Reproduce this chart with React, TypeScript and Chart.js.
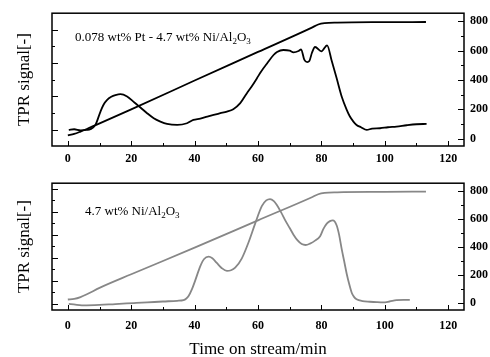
import React, { useEffect, useRef } from 'react';
import { Chart, registerables } from 'chart.js';

Chart.register(...registerables);

const FONT = "'Liberation Serif', 'Times New Roman', Times, serif";

// x axis (time, min): tick positions and labelled ticks
const timeTicks = [0, 10, 20, 30, 40, 50, 60, 70, 80, 90, 100, 110, 120];
const timeLabels = [0, 20, 40, 60, 80, 100, 120];
// right axis (temperature)
const tempTicks = [0, 100, 200, 300, 400, 500, 600, 700, 800];
const tempLabels = [0, 200, 400, 600, 800];
// left axis (TPR signal, unlabelled ticks)
const topSignalTicks = [0, 0.5, 1, 1.5, 2, 2.5, 3];
const bottomSignalTicks = [0, 0.5, 1, 1.5, 2, 2.5, 3, 3.5, 4, 4.5, 5];

// ---- top panel: 0.078 wt% Pt - 4.7 wt% Ni/Al2O3 ----
const topSignalTime = [0.3, 2, 4, 6, 7.1, 8.7, 10.3, 11.3, 12.4, 13.7, 15, 16.6, 18.7, 21, 22.9, 25, 27.1, 29.2, 31.3, 34.5, 37.6, 39.6, 41.8, 44, 46, 48.1, 50.2, 52.2, 54.4, 56.5, 58, 59.7, 61, 62.8, 64.9, 66, 68, 70, 71.2, 72.8, 73.6, 74.6, 75.5, 76.2, 77, 78, 80, 81.8, 83.3, 84.8, 86.4, 88, 89, 90.1, 91.1, 92.5, 94.3, 96, 98.5, 101, 103.7, 106.9, 110, 113.2];
const topSignal = [0.0, 0.02, -0.01, 0.0, 0.02, 0.15, 0.55, 0.76, 0.9, 0.99, 1.04, 1.07, 1.0, 0.82, 0.67, 0.5, 0.35, 0.25, 0.18, 0.15, 0.2, 0.3, 0.34, 0.4, 0.45, 0.5, 0.55, 0.62, 0.8, 1.1, 1.3, 1.55, 1.75, 1.98, 2.24, 2.33, 2.39, 2.37, 2.32, 2.36, 2.41, 2.1, 2.03, 2.06, 2.3, 2.48, 2.35, 2.53, 2.05, 1.55, 1.0, 0.6, 0.4, 0.25, 0.15, 0.08, 0.0, 0.04, 0.05, 0.08, 0.1, 0.14, 0.17, 0.18];
const topTempTime = [0, 2, 4, 6, 8, 20, 40, 60, 77, 79, 81, 85, 100, 113];
const topTemp = [22, 32, 48, 66, 85, 200, 396, 591, 757, 778, 787, 791, 794, 795];

// ---- bottom panel: 4.7 wt% Ni/Al2O3 ----
const bottomSignalTime = [0.3, 5, 10, 15, 20.8, 25, 30, 34.5, 36.5, 37.3, 38.1, 39.2, 40.2, 41.8, 43, 44.4, 45.6, 47, 48.6, 50.2, 51.5, 52.8, 54.9, 57, 59.1, 61.2, 62.6, 63.8, 65, 65.9, 67.3, 68.6, 70, 71.2, 72.5, 73.8, 75, 76.4, 78, 79.6, 80.6, 81.7, 82.7, 83.6, 84.8, 85.6, 86.4, 87.2, 88, 88.8, 89.6, 90.3, 91.1, 93, 95.3, 97.5, 99.5, 101.5, 103.7, 106, 107.9];
const bottomSignal = [0.0, -0.07, -0.05, -0.01, 0.03, 0.06, 0.1, 0.13, 0.16, 0.22, 0.34, 0.65, 1.02, 1.64, 1.95, 2.05, 1.98, 1.78, 1.55, 1.43, 1.46, 1.57, 1.98, 2.67, 3.49, 4.25, 4.5, 4.56, 4.47, 4.31, 3.98, 3.63, 3.3, 3.01, 2.76, 2.6, 2.56, 2.62, 2.75, 2.94, 3.25, 3.49, 3.6, 3.63, 3.42, 3.0, 2.39, 1.85, 1.3, 0.85, 0.47, 0.3, 0.2, 0.12, 0.09, 0.07, 0.06, 0.1, 0.16, 0.17, 0.17];
const bottomTempTime = [0, 2, 4, 6, 10, 20, 40, 60, 77, 79, 81, 85, 100, 113];
const bottomTemp = [25, 29, 42, 62, 108, 205, 395, 590, 755, 776, 786, 790, 793, 795];

const topNote = [
  { text: '0.078 wt% Pt - 4.7 wt% Ni/Al' },
  { text: '2', sub: true },
  { text: 'O' },
  { text: '3', sub: true },
];
const bottomNote = [
  { text: '4.7 wt% Ni/Al' },
  { text: '2', sub: true },
  { text: 'O' },
  { text: '3', sub: true },
];

const pts = (xs: number[], ys: number[]) => xs.map((x, i) => ({ x, y: ys[i] }));

const isMult = (v: number, m: number) => Math.abs(v / m - Math.round(v / m)) < 1e-6;

const setTicks = (values: number[]) => (s: any) => {
  s.ticks = values.map((value) => ({ value }));
};

const framePlugin = {
  id: 'frameTicks',
  afterDraw(chart: any) {
    const { ctx, chartArea, scales } = chart;
    const { left, right, top, bottom } = chartArea;
    ctx.save();
    ctx.strokeStyle = '#000';
    ctx.lineWidth = 1;
    ctx.beginPath();
    const xs = scales.x;
    xs.ticks.forEach((t: any) => {
      const major = timeLabels.includes(t.value);
      const px = Math.round(xs.getPixelForValue(t.value)) + 0.5;
      ctx.moveTo(px, bottom);
      ctx.lineTo(px, bottom - (major ? 5 : 3));
    });
    const yl = scales.yL;
    yl.ticks.forEach((t: any) => {
      const major = isMult(t.value, 1);
      const py = Math.round(yl.getPixelForValue(t.value)) + 0.5;
      if (py <= top + 1 || py >= bottom - 1) return;
      ctx.moveTo(left, py);
      ctx.lineTo(left + (major ? 6 : 3), py);
    });
    const yr = scales.yR;
    yr.ticks.forEach((t: any) => {
      const major = tempLabels.includes(t.value);
      const py = Math.round(yr.getPixelForValue(t.value)) + 0.5;
      if (py <= top + 1 || py >= bottom - 1) return;
      ctx.moveTo(right, py);
      ctx.lineTo(right - (major ? 6 : 3), py);
    });
    ctx.stroke();
    ctx.lineWidth = 1.5;
    ctx.strokeRect(left, top, right - left, bottom - top);
    ctx.restore();
  },
};

const notePlugin = {
  id: 'note',
  afterDraw(chart: any, _args: any, opts: any) {
    if (!opts || !opts.parts) return;
    const { ctx, chartArea } = chart;
    ctx.save();
    ctx.fillStyle = '#000';
    ctx.textBaseline = 'alphabetic';
    ctx.textAlign = 'left';
    let x = chartArea.left + opts.dx;
    const y = chartArea.top + opts.dy;
    opts.parts.forEach((p: any) => {
      ctx.font = p.sub ? `9px ${FONT}` : `13px ${FONT}`;
      ctx.fillText(p.text, x, p.sub ? y + 3 : y);
      x += ctx.measureText(p.text).width;
    });
    ctx.restore();
  },
};

function makeConfig(opts: {
  signal: { x: number; y: number }[];
  temp: { x: number; y: number }[];
  color: string;
  yLMin: number;
  yLMax: number;
  yLTicks: number[];
  xHeight: number;
  xPad: number;
  xTitle: boolean;
  padTop: number;
  note: any[];
  noteDx: number;
  noteDy: number;
}) {
  return {
    type: 'line' as const,
    data: {
      datasets: [
        {
          data: opts.signal,
          yAxisID: 'yL',
          borderColor: opts.color,
          borderWidth: 1.8,
          pointRadius: 0,
          cubicInterpolationMode: 'monotone' as const,
          fill: false,
        },
        {
          data: opts.temp,
          yAxisID: 'yR',
          borderColor: opts.color,
          borderWidth: 1.8,
          pointRadius: 0,
          cubicInterpolationMode: 'monotone' as const,
          fill: false,
        },
      ],
    },
    options: {
      responsive: false,
      animation: false as const,
      layout: { padding: { top: opts.padTop, left: 0, right: 0, bottom: 0 } },
      plugins: {
        legend: { display: false },
        tooltip: { enabled: false },
        note: { parts: opts.note, dx: opts.noteDx, dy: opts.noteDy },
      },
      scales: {
        x: {
          type: 'linear' as const,
          min: -5,
          max: 125,
          grid: { display: false, drawTicks: false },
          border: { display: false },
          afterBuildTicks: setTicks(timeTicks),
          ticks: {
            autoSkip: false,
            maxRotation: 0,
            padding: opts.xPad,
            color: '#000',
            font: { family: FONT, size: 12, weight: 'bold' as const },
            callback: (v: any) => (timeLabels.includes(Number(v)) ? String(v) : ''),
          },
          title: {
            display: opts.xTitle,
            text: 'Time on stream/min',
            color: '#000',
            font: { family: FONT, size: 17, lineHeight: 0.82 },
            padding: 0,
          },
          afterFit: (s: any) => {
            s.height = opts.xHeight;
          },
        },
        yL: {
          type: 'linear' as const,
          position: 'left' as const,
          min: opts.yLMin,
          max: opts.yLMax,
          grid: { display: false, drawTicks: false },
          border: { display: false },
          afterBuildTicks: setTicks(opts.yLTicks),
          ticks: { autoSkip: false, callback: () => '' },
          title: {
            display: true,
            text: 'TPR signal[-]',
            color: '#000',
            font: { family: FONT, size: 17 },
            padding: { top: 14, bottom: 0 },
          },
          afterFit: (s: any) => {
            s.width = 52;
          },
        },
        yR: {
          type: 'linear' as const,
          position: 'right' as const,
          min: -50,
          max: 855,
          grid: { display: false, drawTicks: false },
          border: { display: false },
          afterBuildTicks: setTicks(tempTicks),
          ticks: {
            autoSkip: false,
            padding: 6,
            color: '#000',
            font: { family: FONT, size: 12, weight: 'bold' as const },
            callback: (v: any) => (tempLabels.includes(Number(v)) ? String(v) : ''),
          },
          afterFit: (s: any) => {
            s.width = 26;
          },
        },
      },
    },
    plugins: [framePlugin, notePlugin],
  };
}

export default function App() {
  const topRef = useRef<HTMLCanvasElement | null>(null);
  const botRef = useRef<HTMLCanvasElement | null>(null);

  useEffect(() => {
    const top = new Chart(
      topRef.current as HTMLCanvasElement,
      makeConfig({
        signal: pts(topSignalTime, topSignal),
        temp: pts(topTempTime, topTemp),
        color: '#000000',
        yLMin: -0.48,
        yLMax: 3.49,
        yLTicks: topSignalTicks,
        xHeight: 24,
        xPad: 6,
        xTitle: false,
        padTop: 13,
        note: topNote,
        noteDx: 23,
        noteDy: 27.5,
      }) as any
    );
    const bot = new Chart(
      botRef.current as HTMLCanvasElement,
      makeConfig({
        signal: pts(bottomSignalTime, bottomSignal),
        temp: pts(bottomTempTime, bottomTemp),
        color: '#878787',
        yLMin: -0.27,
        yLMax: 5.25,
        yLTicks: bottomSignalTicks,
        xHeight: 47,
        xPad: 9,
        xTitle: true,
        padTop: 6,
        note: bottomNote,
        noteDx: 33,
        noteDy: 32,
      }) as any
    );
    return () => {
      top.destroy();
      bot.destroy();
    };
  }, []);

  return (
    <div style={{ position: 'absolute', left: 0, top: 0, width: 490, height: 357, background: '#fff', overflow: 'hidden' }}>
      <canvas ref={topRef} width={490} height={170} style={{ position: 'absolute', left: 0, top: 0 }} />
      <canvas ref={botRef} width={490} height={187} style={{ position: 'absolute', left: 0, top: 170 }} />
    </div>
  );
}
